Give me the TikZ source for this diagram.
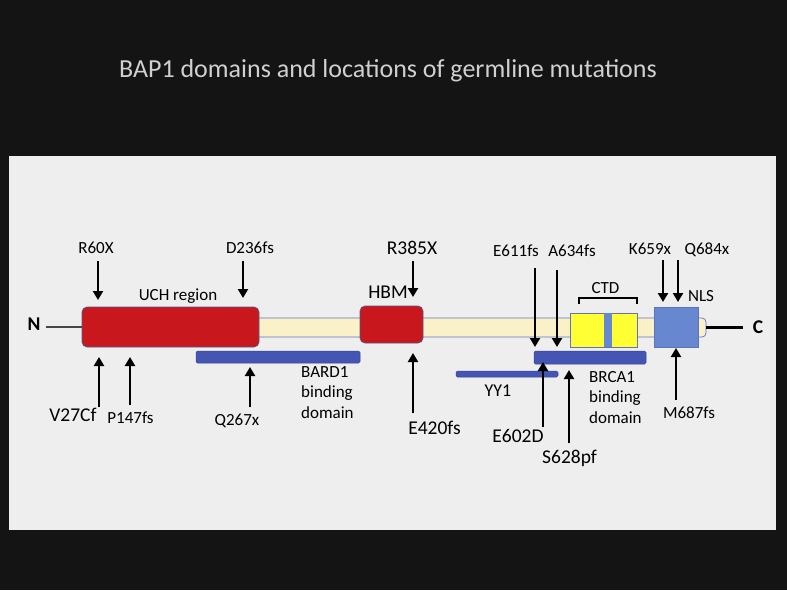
\documentclass[tikz,border=0pt]{standalone}
\usepackage{fontspec}
\setmainfont{Carlito}
\usetikzlibrary{arrows.meta}

\definecolor{slidebg}{HTML}{141414}
\definecolor{panelbg}{HTML}{EEEEEE}
\definecolor{titlegray}{HTML}{D0D0D0}
\definecolor{uchred}{HTML}{C9171E}
\definecolor{boxedge}{HTML}{4F5B8C}
\definecolor{cream}{HTML}{FBF1C9}
\definecolor{creamedge}{HTML}{5E72BE}
\definecolor{bindblue}{HTML}{4455B4}
\definecolor{nlsblue}{HTML}{6788D0}
\definecolor{ctdyellow}{HTML}{FFFF33}
\definecolor{stubgray}{HTML}{454545}

\begin{document}
\begin{tikzpicture}[x=1pt, y=-1pt,
  lbl/.style={font=\fontsize{17}{20.5}\selectfont, inner sep=0pt},
  endlbl/.style={font=\fontsize{19.5}{23}\selectfont\bfseries, inner sep=0pt},
  domainbox/.style={draw=boxedge, line width=0.7pt, rounded corners=5pt, inner sep=0pt},
  bindbar/.style={fill=bindblue, draw=bindblue!80!black, line width=0.5pt, rounded corners=1.5pt, inner sep=0pt},
  mut/.style={line width=2.8pt, -{Triangle[length=9pt,width=10pt]}},
]
  % slide and panel
  \fill[slidebg] (0,0) rectangle (787,590);
  \fill[panelbg] (9,156) rectangle (776,530);
  \node[font=\fontsize{26}{30}\selectfont, text=titlegray, anchor=base, inner sep=0pt] (title)
    at (388,77) {BAP1 domains and locations of germline mutations};

  % protein backbone and domains
  \node[draw=creamedge, fill=cream, line width=0.7pt, rounded corners=4pt, inner sep=0pt,
        minimum width=456pt, minimum height=19pt] (backbone) at (478,327.5) {};
  \node[domainbox, fill=uchred, minimum width=177pt, minimum height=40pt] (uch) at (170.5,327) {};
  \node[domainbox, fill=uchred, minimum width=63pt, minimum height=37pt] (hbm) at (391.5,324.5) {};
  \node[draw=creamedge, fill=ctdyellow, line width=0.7pt, inner sep=0pt,
        minimum width=67pt, minimum height=34pt] (ctd) at (603.5,330) {};
  \node[fill=nlsblue, inner sep=0pt, minimum width=8pt, minimum height=34pt] (ctdmid) at (608,330) {};
  \node[draw=creamedge, fill=nlsblue, line width=0.7pt, inner sep=0pt,
        minimum width=44pt, minimum height=40pt] (nls) at (676,327) {};

  % binding regions
  \node[bindbar, minimum width=164pt, minimum height=12pt] (bard1) at (278,357) {};
  \node[bindbar, minimum width=102pt, minimum height=6pt] (yy1) at (507,374) {};
  \node[bindbar, minimum width=112pt, minimum height=13pt] (brca1) at (590,357.5) {};

  % termini
  \node[endlbl, anchor=base] (nterm) at (34,330) {N};
  \node[endlbl, anchor=base] (cterm) at (758,333) {C};
  \draw[stubgray, line width=2.2pt, shorten <=5.5pt] (nterm.east |- uch.west) -- (uch.west);
  \draw[black, line width=3pt, shorten >=10pt] (backbone.east) -- (cterm.west |- backbone.east);

  % domain labels
  \node[lbl, anchor=base] (uchlbl) at (178,300.5) {UCH region};
  \node[lbl, font=\fontsize{19.5}{23}\selectfont, anchor=base] (hbmlbl) at (388,298) {HBM};
  \node[lbl, anchor=base] (ctdlbl) at (605.5,293) {CTD};
  \node[lbl, anchor=base] (nlslbl) at (701,301) {NLS};
  \draw[line width=1.3pt] (579,304) -- (579,298) -- (637,298) -- (637,304);
  \node[lbl, align=left, anchor=north west] (bard1lbl) at (301,366) {BARD1\\binding\\domain};
  \node[lbl, align=left, anchor=north west] (brca1lbl) at (589,371) {BRCA1\\binding\\domain};
  \node[lbl, font=\fontsize{18}{20}\selectfont, anchor=base] (yy1lbl) at (498,396) {YY1};

  % mutations above the protein
  \foreach \nm/\txt/\fs/\lx/\ly/\ax/\ay/\gap in {
      r60x/R60X/17/96/253/98/300/8pt,
      d236/D236fs/17/250/253/243/298/8pt,
      r385/R385X/19.5/412/254/413/297/7pt,
      e611/E611fs/17/516/256/535/347/12pt,
      a634/A634fs/17/572/256/557/347/14pt,
      k659/K659x/17/650/254/663/302/6pt,
      q684/Q684x/17/707/254/678/302/4pt}{
    \node[lbl, font=\fontsize{\fs}{\fs}\selectfont, anchor=base] (\nm) at (\lx,\ly) {\txt};
    \coordinate (\nm-tip) at (\ax,\ay);
    \draw[mut, shorten <=\gap] (\nm-tip |- \nm.south) -- (\nm-tip);
  }

  % mutations below the protein
  \foreach \nm/\txt/\fs/\lx/\ly/\ax/\ay/\gap in {
      v27/V27Cf/19.5/73/421/99/357/0pt,
      p147/P147fs/17/130.5/423/130/357/6pt,
      q267/Q267x/17/237/425/250/367/6pt,
      e420/E420fs/19.5/434.5/434/413/353/7pt,
      e602/E602D/19.5/518/442/543/362/2pt,
      s628/S628pf/19.5/569.5/463/569/370/6pt,
      m687/M687fs/17/689/418/676/348/6pt}{
    \node[lbl, font=\fontsize{\fs}{\fs}\selectfont, anchor=base] (\nm) at (\lx,\ly) {\txt};
    \coordinate (\nm-tip) at (\ax,\ay);
    \draw[mut, shorten <=\gap] (\nm-tip |- \nm.north) -- (\nm-tip);
  }
\end{tikzpicture}
\end{document}
